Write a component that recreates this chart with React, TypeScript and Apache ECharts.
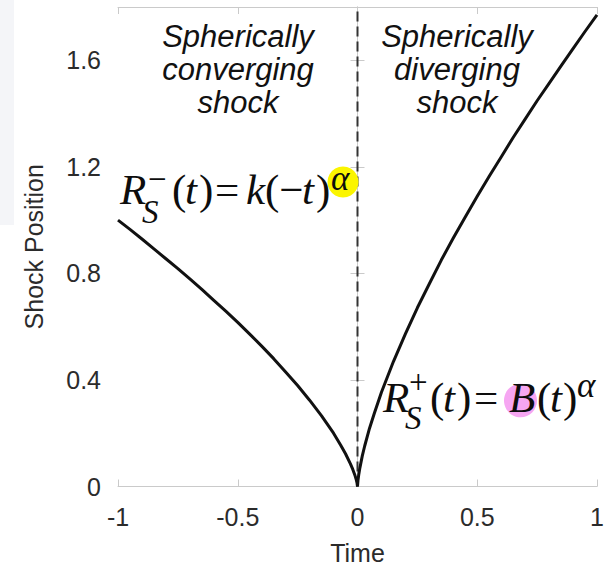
import React, { useEffect, useRef } from "react";
import * as echarts from "echarts";

// Shock radius before collapse (t < 0) and after reflection (t > 0)
const convergingTime = [-1, -0.95, -0.9, -0.85, -0.8, -0.75, -0.7, -0.65, -0.6, -0.55, -0.5, -0.45, -0.4, -0.35, -0.3, -0.25, -0.2, -0.15, -0.1, -0.07, -0.05, -0.03, -0.02, -0.01, -0.005, -0.002, 0];
const convergingRadius = [1.0, 0.965, 0.929, 0.892, 0.855, 0.818, 0.779, 0.74, 0.699, 0.658, 0.616, 0.572, 0.527, 0.48, 0.43, 0.379, 0.324, 0.265, 0.2, 0.155, 0.123, 0.086, 0.065, 0.04, 0.025, 0.013, 0];
const divergingTime = [0, 0.002, 0.005, 0.01, 0.02, 0.03, 0.05, 0.07, 0.1, 0.15, 0.2, 0.25, 0.3, 0.35, 0.4, 0.45, 0.5, 0.55, 0.6, 0.65, 0.7, 0.75, 0.8, 0.85, 0.9, 0.95, 1.0];
const divergingRadius = [0, 0.023, 0.043, 0.07, 0.115, 0.152, 0.218, 0.274, 0.354, 0.469, 0.573, 0.671, 0.761, 0.85, 0.933, 1.012, 1.09, 1.165, 1.237, 1.31, 1.379, 1.448, 1.513, 1.579, 1.644, 1.708, 1.77];

const xTickLabels = ["-1", "-0.5", "0", "0.5", "1"];
const yTickLabels = ["0", "0.4", "0.8", "1.2", "1.6"];
const collapseLine = [[0, 0], [0, 1.8]];

const SANS = '"Liberation Sans", Arial, Helvetica, sans-serif';
const SERIF = '"Liberation Serif", "Times New Roman", Times, serif';
const FRAME = "#cacaca";
const AXIS_TEXT = "#2b2b2b";

type Glyph = [string, number, number, number, boolean];

// One run of a typeset formula, positioned by its alphabetic baseline
function glyph([text, x, baseline, size, italic]: Glyph) {
  return {
    type: "text",
    silent: true,
    z: 20,
    style: {
      text,
      x,
      y: baseline - 0.34 * size,
      font: `${italic ? "italic " : ""}${size}px ${SERIF}`,
      fill: "#0d0d0d",
      align: "left",
      verticalAlign: "middle",
    },
  };
}

const formulaConverging: Glyph[] = [
  ["R", 120, 204, 43, true],
  ["S", 142, 223, 33, true],
  ["\u2212", 148, 190, 33, false],
  ["(", 172, 204, 43, false],
  ["t", 185, 204, 43, true],
  [")", 199, 204, 43, false],
  ["=", 215, 204, 43, false],
  ["k", 246, 204, 43, true],
  ["(\u2212", 265, 204, 43, false],
  ["t", 302, 204, 43, true],
  [")", 316, 204, 43, false],
  ["\u03b1", 331, 190, 35, true],
];

const formulaDiverging: Glyph[] = [
  ["R", 383, 412, 43, true],
  ["S", 405, 429, 33, true],
  ["+", 409, 393, 33, false],
  ["(", 430, 412, 43, false],
  ["t", 443, 412, 43, true],
  [")", 457, 412, 43, false],
  ["=", 474, 412, 43, false],
  ["B", 509, 412, 43, true],
  ["(", 537, 412, 43, false],
  ["t", 550, 412, 43, true],
  [")", 563, 412, 43, false],
  ["\u03b1", 577, 397, 35, true],
];

function caption(text: string, x: number) {
  return {
    type: "text",
    silent: true,
    z: 20,
    style: {
      text,
      x,
      y: 69,
      font: `italic 31px ${SANS}`,
      fill: "#111",
      align: "center",
      verticalAlign: "middle",
      lineHeight: 33,
    },
  };
}

export default function App() {
  const ref = useRef<HTMLDivElement>(null);

  useEffect(() => {
    if (!ref.current) return;
    const chart = echarts.init(ref.current, undefined, { renderer: "svg" });

    const sideAxis = {
      type: "value",
      min: 0,
      max: 1.8,
      interval: 0.4,
      axisLine: { show: true, lineStyle: { color: FRAME, width: 1 } },
      axisTick: { show: true, inside: true, length: 7, lineStyle: { color: FRAME } },
      splitLine: { show: false },
    };
    const timeAxis = {
      type: "value",
      min: -1,
      max: 1,
      interval: 0.5,
      axisLine: { show: true, onZero: false, lineStyle: { color: FRAME, width: 1 } },
      axisTick: { show: true, inside: true, length: 7, lineStyle: { color: FRAME } },
      splitLine: { show: false },
    };

    chart.setOption({
      animation: false,
      backgroundColor: "#ffffff",
      grid: { left: 118, right: 12, top: 7, bottom: 81.5, containLabel: false, outerBoundsMode: "none" },
      xAxis: [
        {
          ...timeAxis,
          position: "bottom",
          name: "Time",
          nameLocation: "middle",
          nameGap: 54,
          nameTextStyle: { fontFamily: SANS, fontSize: 25, color: AXIS_TEXT },
          axisLabel: {
            margin: 18,
            fontFamily: SANS,
            fontSize: 25,
            color: AXIS_TEXT,
            formatter: (v: number) => xTickLabels[Math.round((v + 1) / 0.5)] ?? "",
          },
        },
        { ...timeAxis, position: "top", axisLabel: { show: false } },
      ],
      yAxis: [
        {
          ...sideAxis,
          position: "left",
          name: "Shock Position",
          nameLocation: "middle",
          nameGap: 72,
          nameRotate: 90,
          nameTextStyle: { fontFamily: SANS, fontSize: 25, color: AXIS_TEXT },
          axisLabel: {
            margin: 17,
            fontFamily: SANS,
            fontSize: 25,
            color: AXIS_TEXT,
            formatter: (v: number) => (v > 1.7 ? "" : yTickLabels[Math.round(v / 0.4)] ?? ""),
          },
        },
        { ...sideAxis, position: "right", axisLabel: { show: false } },
      ],
      series: [
        {
          type: "line",
          data: collapseLine,
          symbol: "none",
          silent: true,
          lineStyle: { color: "#333", width: 2, type: [10, 5] },
          z: 2,
        },
        {
          type: "line",
          data: convergingTime.map((t, i) => [t, convergingRadius[i]]),
          symbol: "none",
          lineStyle: { color: "#111", width: 3, join: "round" },
          z: 3,
        },
        {
          type: "line",
          data: divergingTime.map((t, i) => [t, divergingRadius[i]]),
          symbol: "none",
          lineStyle: { color: "#111", width: 3, join: "round" },
          z: 3,
        },
      ],
      graphic: [
        { type: "rect", silent: true, z: -10, shape: { x: 0, y: 0, width: 14, height: 225 }, style: { fill: "#f4f5f8" } },
        { type: "circle", silent: true, z: 5, shape: { cx: 343, cy: 182, r: 15.5 }, style: { fill: "#fbf500" } },
        { type: "ellipse", silent: true, z: 5, shape: { cx: 520.5, cy: 400.5, rx: 16.5, ry: 16.8 }, style: { fill: "#f6a6f2" } },
        caption("Spherically\nconverging\nshock", 238),
        caption("Spherically\ndiverging\nshock", 457),
        ...formulaConverging.map(glyph),
        ...formulaDiverging.map(glyph),
      ],
    });

    return () => chart.dispose();
  }, []);

  return (
    <div
      ref={ref}
      style={{ position: "fixed", left: 0, top: 0, width: 609, height: 568, background: "#fff" }}
    />
  );
}
